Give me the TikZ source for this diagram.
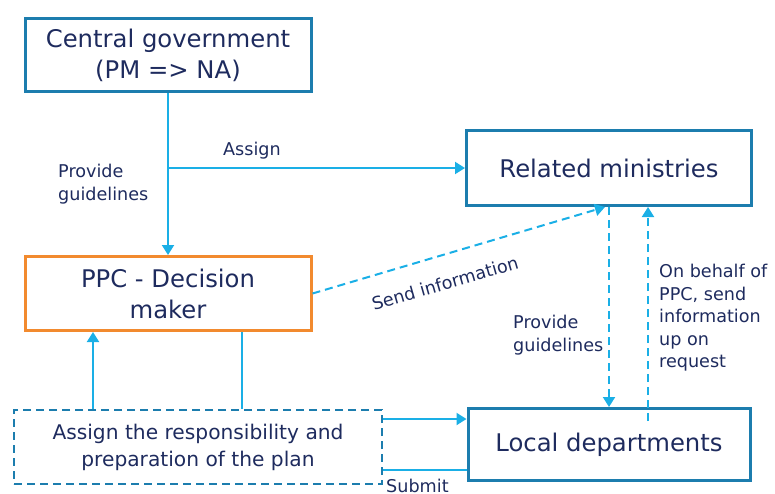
\documentclass[tikz,border=0pt]{standalone}
\usepackage{fontspec}
\setmainfont{DejaVu Sans}
\usetikzlibrary{arrows.meta}
\definecolor{boxteal}{HTML}{1C7DAE}
\definecolor{linkcyan}{HTML}{1AAFE6}
\definecolor{inkblue}{HTML}{1E2B5E}
\definecolor{ppcorange}{HTML}{F28A2E}
\begin{document}
\begin{tikzpicture}[x=1pt,y=-1pt,
  text=inkblue,
  mainbox/.style={draw=boxteal, line width=3pt, align=center, inner sep=0pt,
    font=\fontsize{24.3}{31}\selectfont},
  planbox/.style={draw=boxteal, line width=1.8pt, dash pattern=on 8pt off 5pt,
    align=center, inner sep=0pt, font=\fontsize{20.2}{27}\selectfont},
  link/.style={draw=linkcyan, line width=2pt},
  tip/.style={-{Triangle[width=12pt,length=10pt]}},
  dashlink/.style={link, dash pattern=on 8pt off 5pt},
  lbl/.style={align=left, inner sep=0pt, font=\fontsize{17.6}{22.5}\selectfont}
]
\useasboundingbox (0,0) rectangle (775,493);

% boxes
\node[mainbox, minimum width=286pt, minimum height=73pt] (cg) at (168,55)
  {Central government\\(PM => NA)};
\node[mainbox, minimum width=285pt, minimum height=75pt] (rm) at (609,168)
  {Related ministries};
\node[mainbox, draw=ppcorange, minimum width=286pt, minimum height=74pt] (ppc) at (168,293.5)
  {PPC - Decision\\maker};
\node[mainbox, minimum width=282pt, minimum height=72pt] (ld) at (609,444.5)
  {Local departments};
\node[planbox, minimum width=368pt, minimum height=74pt] (asg) at (198,447)
  {Assign the responsibility and\\preparation of the plan};

% central government links
\draw[link, tip] (cg.south) -- (ppc.north);
\coordinate (branch) at (cg.south |- rm.west);
\draw[link, tip] (branch) -- (rm.west);

% PPC and the plan box
\draw[link, tip] ([xshift=-105pt]asg.north) -- ([xshift=-105pt]asg.north |- ppc.south);
\draw[link] ([xshift=44pt]asg.north |- ppc.south) -- ([xshift=44pt]asg.north);

% PPC to ministries
\draw[dashlink, tip] (ppc.east) -- ([xshift=-4pt]rm.south);

% ministries and local departments
\draw[dashlink, tip] (rm.south) -- (ld.north);
\coordinate (upstart) at ([xshift=39pt,yshift=-14pt]ld.north);
\draw[dashlink, tip] (upstart) -- (upstart |- rm.south);

% plan box and local departments: assign (upper) and submit (lower)
\coordinate (asgin) at ([yshift=25.5pt]asg.east |- ld.west);
\coordinate (subout) at ([yshift=-25.5pt]asg.east |- ld.west);
\draw[link, tip] (asgin) -- (asgin -| ld.west);
\draw[link] (subout -| ld.west) -- (subout);

% labels
\node[lbl, anchor=base west] (lassign) at (223,155) {Assign};
\node[lbl, anchor=north west] (lguide1) at (58,164) {Provide\\guidelines};
\node[lbl, anchor=north west] (lguide2) at (513,315) {Provide\\guidelines};
\node[lbl, anchor=north west] (lbehalf) at (659,264) {On behalf of\\PPC, send\\information\\up on\\request};
\node[lbl, rotate=16] (lsend) at (445,283) {Send information};
\node[lbl, anchor=base west] (lsubmit) at (386,492) {Submit};
\end{tikzpicture}
\end{document}
